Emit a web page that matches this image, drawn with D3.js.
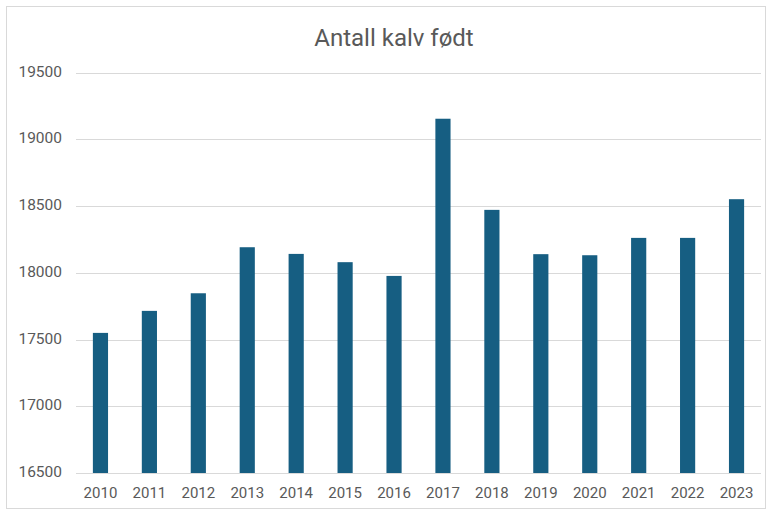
<!DOCTYPE html>
<html><head><meta charset="utf-8">
<script src="https://cdn.jsdelivr.net/npm/d3@7"></script>
<style>body{margin:0;background:#fff}svg{display:block}</style>
</head><body>
<script>
const years = ["2010","2011","2012","2013","2014","2015","2016","2017","2018","2019","2020","2021","2022","2023"];
const calves = [17550,17715,17847,18192,18142,18080,17977,19155,18472,18140,18132,18262,18262,18552];
const yTicks = [16500,17000,17500,18000,18500,19000,19500];
const title = "Antall kalv født";

const W=771,H=513;
const svg=d3.select("body").append("svg").attr("width",W).attr("height",H);
svg.append("rect").attr("x",6.5).attr("y",6.5).attr("width",759).attr("height",502)
  .attr("fill","#fff").attr("stroke","#d9d9d9");
const x=d3.scaleBand().domain(years).range([76,761]).paddingInner(0.69).paddingOuter(0.345);
const y=d3.scaleLinear().domain([16500,19500]).range([473,72.7]);
const font="Roboto, 'Liberation Sans', Arial, sans-serif";
svg.append("g").selectAll("line").data(yTicks).join("line")
  .attr("x1",76).attr("x2",761).attr("y1",d=>Math.round(y(d))+0.5).attr("y2",d=>Math.round(y(d))+0.5)
  .attr("stroke","#d9d9d9").attr("stroke-width",1);
svg.append("g").selectAll("rect").data(years).join("rect")
  .attr("x",d=>x(d)).attr("width",x.bandwidth())
  .attr("y",(d,i)=>y(calves[i])).attr("height",(d,i)=>y(16500)-y(calves[i]))
  .attr("fill","#165e82");
const yAxis=d3.axisLeft(y).tickValues(yTicks).tickSize(0).tickPadding(0).tickFormat(d3.format("d"));
const gy=svg.append("g").attr("transform","translate(62,-1.5)").call(yAxis);
gy.select(".domain").remove();
gy.selectAll("text").attr("fill","#595959").attr("font-size","15.5px").attr("font-family",font);
const xAxis=d3.axisBottom(x).tickSize(0).tickPadding(0);
const gx=svg.append("g").attr("transform","translate(0,487)").call(xAxis);
gx.select(".domain").remove();
gx.selectAll("text").attr("fill","#595959").attr("font-size","15px").attr("font-family",font);
svg.append("text").attr("x",394).attr("y",46).attr("text-anchor","middle")
  .attr("font-size","24px").attr("fill","#595959").attr("font-family",font).text(title);
</script>
</body></html>
